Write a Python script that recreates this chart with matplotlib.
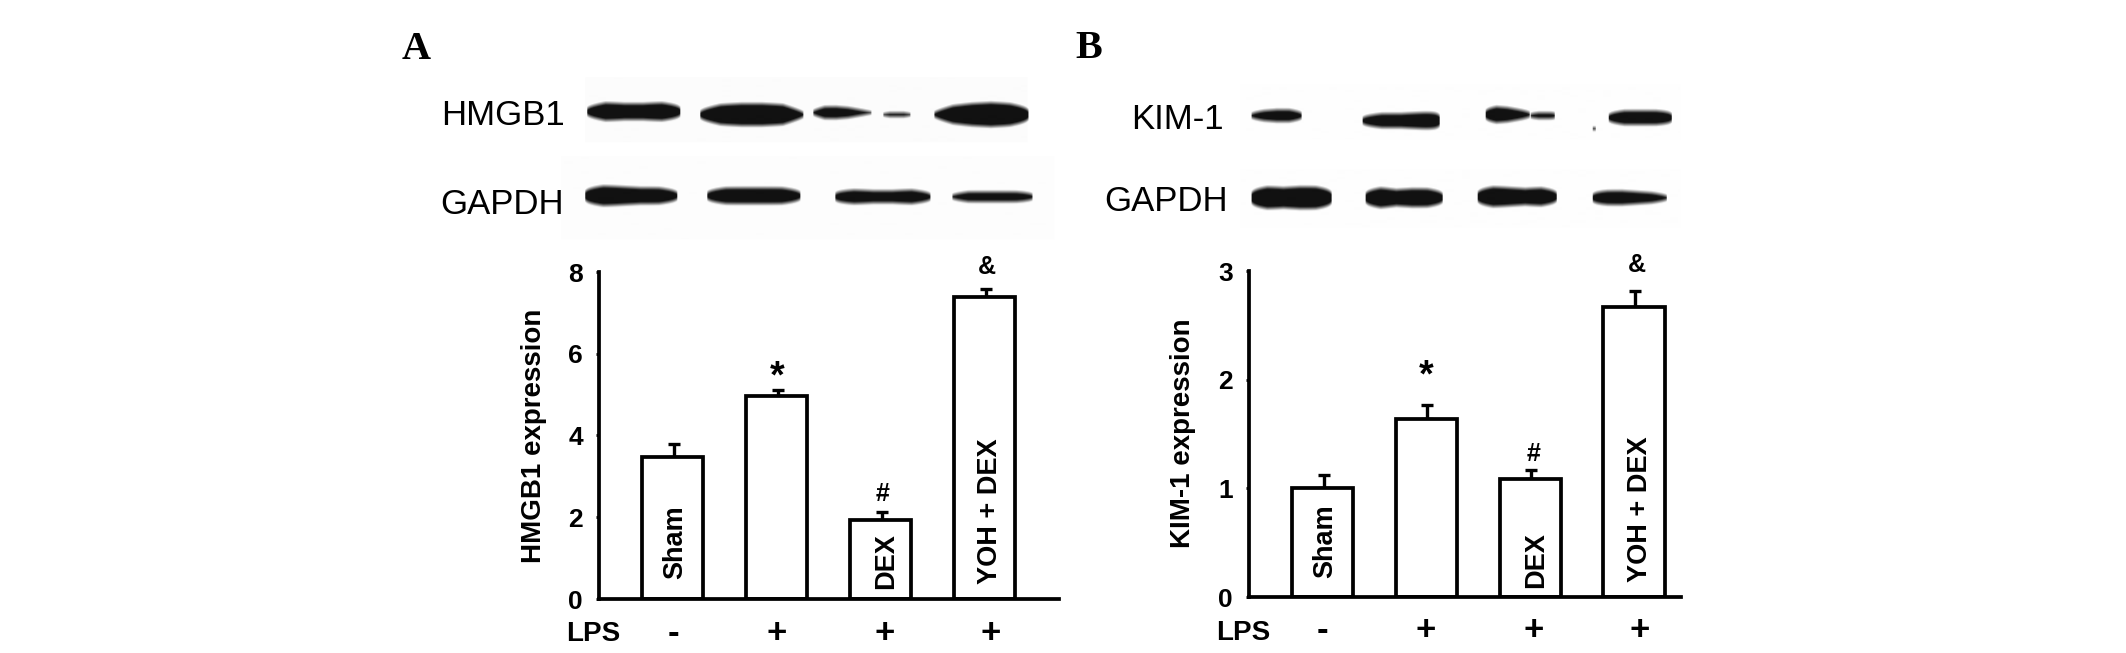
import numpy as np
import matplotlib
matplotlib.use("Agg")
import matplotlib.pyplot as plt

W, H = 2126, 653
SANS = "Liberation Sans"
SERIF = "Liberation Serif"

lps_marks = ["-", "+", "+", "+"]
bar_labels = ["Sham", "DEX", "YOH + DEX"]

hmgb1_means = [3.48, 4.97, 1.93, 7.39]
hmgb1_errs = [0.32, 0.13, 0.19, 0.19]
hmgb1_ticks = [0, 2, 4, 6, 8]

kim1_means = [1.00, 1.64, 1.09, 2.67]
kim1_errs = [0.12, 0.13, 0.075, 0.15]
kim1_ticks = [0, 1, 2, 3]

# western-blot bands: x0, x1, y centre, half-height profile along the band
hmgb1_bands = [
    (586, 680, 112, [6, 9, 8, 8, 9, 7]),
    (699, 803, 115, [6, 10, 11, 11, 10, 4]),
    (812, 871, 113, [3, 6, 6, 5, 3, 1]),
    (882, 910, 115, [1, 2, 2, 2, 1]),
    (933, 1028, 115, [4, 9, 11, 12, 11, 8]),
]
gapdh_a_bands = [
    (584, 677, 196, [8, 10, 9, 8, 8, 6]),
    (706, 800, 196, [6, 8, 8, 8, 8, 6]),
    (834, 930, 197, [6, 7, 6, 6, 7, 5]),
    (951, 1032, 197, [3, 5, 5, 5, 5, 4]),
]
kim1_bands = [
    (1250, 1301, 116, [3, 5, 6, 6, 4]),
    (1361, 1439, 121, [5, 7, 7, 8, 9]),
    (1484, 1529, 115, [6, 8, 7, 5, 3]),
    (1529, 1554, 116, [2, 3, 3, 3]),
    (1607, 1671, 118, [5, 7, 7, 7, 6]),
    (1591, 1595, 129, [1, 1, 1]),
]
gapdh_b_bands = [
    (1250, 1331, 198, [9, 11, 10, 11, 11, 9]),
    (1364, 1442, 198, [8, 10, 8, 9, 9, 7]),
    (1476, 1556, 197, [8, 10, 9, 8, 9, 7]),
    (1591, 1666, 198, [6, 7, 7, 6, 5, 3]),
]
blot_backdrops = [
    (585, 1027, 78, 143, 0.985),
    (561, 1054, 157, 240, 0.992),
    (1240, 1680, 85, 140, 0.995),
    (1240, 1680, 170, 228, 0.993),
]


def blot_image():
    img = np.ones((H, W))
    for x0, x1, y0, y1, g in blot_backdrops:
        img[y0:y1, x0:x1] = g
    yy, xx = np.mgrid[0:H, 0:W]
    for bands in (hmgb1_bands, gapdh_a_bands, kim1_bands, gapdh_b_bands):
        for x0, x1, yc, prof in bands:
            xs = np.linspace(x0, x1, len(prof))
            xa = np.arange(W)
            h = np.interp(xa, xs, prof)
            t = (xa - (x0 + x1) / 2) / ((x1 - x0) / 2)
            shape = np.where(np.abs(t) < 1, (1 - np.abs(t) ** 5) ** 0.25, 0)
            h = h * shape
            dark = np.clip((h[None, :] - np.abs(yy - yc)) / 4.5 + 0.5, 0, 1)
            dark[:, h <= 0] = 0
            img = np.minimum(img, 1 - 0.93 * dark)
    return img


fig = plt.figure(figsize=((W + 0.1) / 100, (H + 0.1) / 100), dpi=100, facecolor="white")

bg = fig.add_axes([0, 0, 1, 1], zorder=0)
bg.imshow(blot_image(), cmap="gray", vmin=0, vmax=1, extent=(0, W, H, 0),
          aspect="auto", interpolation="bilinear")
bg.axis("off")


def put(x, y, s, size, **kw):
    kw.setdefault("family", SANS)
    kw.setdefault("ha", "center")
    kw.setdefault("va", "center")
    return fig.text(x / W, 1 - y / H, s, fontsize=size, color="black", zorder=5, **kw)


def panel(left, right, top, base, xlo, xhi, means, errs, ticks, ylabel, ylabel_xy):
    ax = fig.add_axes([left / W, 1 - base / H, (right - left) / W, (base - top) / H], zorder=1)
    ax.patch.set_alpha(0)
    xs = np.arange(len(means))
    ax.errorbar(xs + 0.01, means, yerr=[np.zeros(len(errs)), errs], fmt="none",
                ecolor="black", elinewidth=2.4, capsize=4, capthick=2.4, zorder=1)
    ax.bar(xs, means, width=0.59, facecolor="white", edgecolor="black", linewidth=2.7, zorder=2)
    ax.set_xlim(xlo, xhi)
    ax.set_ylim(0, ticks[-1])
    ax.set_yticks(ticks)
    ax.set_yticklabels([str(t) for t in ticks], fontfamily=SANS, fontweight="bold", fontsize=19)
    ax.set_xticks([])
    ax.tick_params(axis="y", length=2.5, width=2, pad=9)
    for s in ("top", "right"):
        ax.spines[s].set_visible(False)
    for s in ("left", "bottom"):
        ax.spines[s].set_linewidth(2.7)
    put(ylabel_xy[0], ylabel_xy[1], ylabel, 20, fontweight="bold", rotation=90)
    return ax


panel(599, 1059, 272, 599, -0.707, 3.716, hmgb1_means, hmgb1_errs, hmgb1_ticks,
      "HMGB1 expression", (534, 436))
panel(1249, 1681, 271, 597, -0.708, 3.454, kim1_means, kim1_errs, kim1_ticks,
      "KIM-1 expression", (1183, 433))

# panel letters
put(416, 49, "A", 29, family=SERIF, fontweight="bold")
put(1089, 48, "B", 29, family=SERIF, fontweight="bold")

# blot labels
put(565, 115, "HMGB1", 25, ha="right")
put(564, 204, "GAPDH", 25, ha="right")
put(1224, 119, "KIM-1", 25, ha="right")
put(1228, 201, "GAPDH", 25, ha="right")

# group labels inside the bars, significance marks and the LPS row
for (x, y), s in zip([(675, 542), (886, 561), (990, 511)], bar_labels):
    put(x, y, s, 19.5, fontweight="bold", rotation=90)
for (x, y), s in zip([(1325, 541), (1536, 560), (1640, 509)], bar_labels):
    put(x, y, s, 19.5, fontweight="bold", rotation=90)

for (x, y), s in zip([(777, 377), (883, 494), (987, 267)], ["*", "#", "&"]):
    put(x, y, s, 27 if s == "*" else 18, fontweight="bold")
for (x, y), s in zip([(1426, 376), (1533, 454), (1637, 265)], ["*", "#", "&"]):
    put(x, y, s, 27 if s == "*" else 18, fontweight="bold")

put(593, 634, "LPS", 20, fontweight="bold")
put(1243, 633, "LPS", 20, fontweight="bold")
for x, s in zip([673, 777, 885, 991], lps_marks):
    put(x, 633, s, 25, fontweight="bold")
for x, s in zip([1322, 1426, 1534, 1640], lps_marks):
    put(x, 630, s, 25, fontweight="bold")

fig.savefig("out.png", dpi=100, facecolor="white")
